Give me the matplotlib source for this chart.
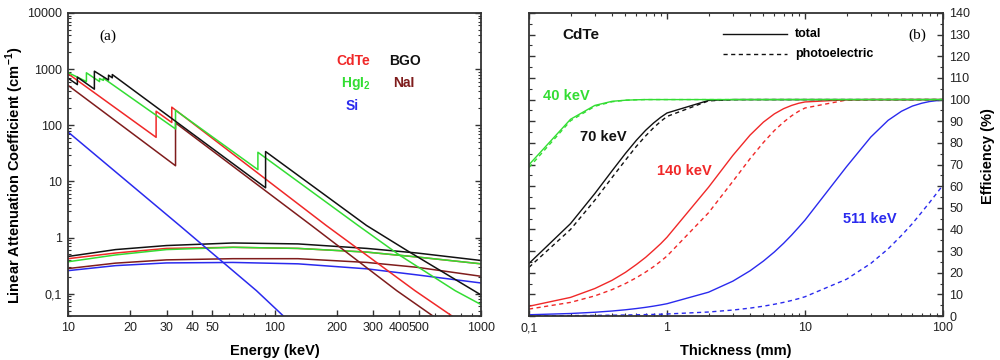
import matplotlib
matplotlib.use("Agg")
import matplotlib.pyplot as plt
from matplotlib.lines import Line2D
from matplotlib.ticker import FixedLocator, FixedFormatter, NullFormatter, MultipleLocator

plt.rcParams['font.family'] = ['Liberation Sans', 'DejaVu Sans']
plt.rcParams['mathtext.fontset'] = 'custom'
plt.rcParams['mathtext.rm'] = 'Liberation Sans'
plt.rcParams['mathtext.bf'] = 'Liberation Sans:bold'

# ---------------- Panel (a): linear attenuation coefficients ----------------
cdte_E = [10, 26.71, 26.71, 31.81, 31.81, 178, 479, 731]
cdte_mu = [830, 61, 178, 112, 210, 1.64, 0.113, 0.039]

hgi2_E = [10, 12.28, 12.28, 14.21, 14.21, 14.84, 14.84, 33.17, 33.17, 83.1, 83.1,
          254, 405, 750, 1000]
hgi2_mu = [870, 600, 860, 600, 680, 630, 690, 86, 185, 16.2, 33,
           1.64, 0.48, 0.113, 0.064]

bgo_E = [10, 11.1, 11.1, 13.42, 13.42, 15.71, 15.71, 16.39, 16.39, 90.53, 90.53,
         279, 451, 1000]
bgo_mu = [690, 530, 720, 440, 920, 640, 780, 700, 800, 7.7, 34,
          1.64, 0.55, 0.095]

nai_E = [10, 33.17, 33.17, 151, 391, 591]
nai_mu = [515, 19, 110, 1.64, 0.113, 0.039]

si_E = [10, 34.7, 81.8, 120]
si_mu = [76, 1.64, 0.113, 0.030]

# Scattering curves (flat ones)
comp_E = [10, 17, 30, 63, 130, 280, 490, 1000]
bgo_c = [0.46, 0.61, 0.72, 0.80, 0.77, 0.64, 0.53, 0.39]
cdte_c = [0.42, 0.53, 0.64, 0.67, 0.64, 0.55, 0.45, 0.34]
hgi2_c = [0.37, 0.49, 0.61, 0.67, 0.64, 0.55, 0.45, 0.34]
nai_c = [0.28, 0.35, 0.40, 0.42, 0.42, 0.36, 0.295, 0.204]
si_c = [0.257, 0.316, 0.353, 0.36, 0.34, 0.277, 0.216, 0.155]

a_xticks = [10, 20, 30, 40, 50, 100, 200, 300, 400, 500, 1000]
a_xticklabels = ['10', '20', '30', '40', '50', '100', '200', '300', '400', '500', '1000']
a_yticks = [0.1, 1, 10, 100, 1000, 10000]
a_yticklabels = ['0,1', '1', '10', '100', '1000', '10000']

# ---------------- Panel (b): efficiency vs thickness ----------------
thick = [0.1, 0.2, 0.3, 0.4, 0.5, 0.6, 0.7, 0.8, 0.9, 1,
         2, 3, 4, 5, 6, 7, 8, 9, 10,
         20, 30, 40, 50, 60, 70, 80, 90, 100]

eff40_tot = [69.9, 90.9, 97.3, 99.2, 99.7, 99.9, 100, 100, 100, 100,
             100, 100, 100, 100, 100, 100, 100, 100, 100,
             100, 100, 100, 100, 100, 100, 100, 100, 100]
eff40_pe = [68.6, 90.2, 96.9, 99.0, 99.7, 99.9, 100, 100, 100, 100,
            100, 100, 100, 100, 100, 100, 100, 100, 100,
            100, 100, 100, 100, 100, 100, 100, 100, 100]
eff70_tot = [24.3, 42.7, 56.6, 67.1, 75.1, 81.2, 85.8, 89.2, 91.8, 93.8,
             99.6, 100, 100, 100, 100, 100, 100, 100, 100,
             100, 100, 100, 100, 100, 100, 100, 100, 100]
eff70_pe = [22.5, 40.0, 53.5, 64.0, 72.0, 78.4, 83.2, 87.0, 89.9, 92.2,
            99.4, 99.95, 100, 100, 100, 100, 100, 100, 100,
            100, 100, 100, 100, 100, 100, 100, 100, 100]
eff140_tot = [4.5, 8.6, 12.7, 16.5, 20.2, 23.8, 27.1, 30.4, 33.4, 36.4,
              59.5, 74.2, 83.6, 89.6, 93.4, 95.8, 97.3, 98.3, 98.9,
              99.9, 100, 100, 100, 100, 100, 100, 100, 100]
eff140_pe = [3.2, 6.3, 9.3, 12.2, 15.0, 17.7, 20.3, 22.8, 25.3, 27.7,
             47.7, 62.2, 72.7, 80.2, 85.7, 89.6, 92.5, 94.6, 96.1,
             99.8, 100, 100, 100, 100, 100, 100, 100, 100]
eff511_tot = [0.58, 1.16, 1.74, 2.31, 2.88, 3.45, 4.01, 4.57, 5.13, 5.68,
              11.0, 16.1, 20.9, 25.4, 29.6, 33.6, 37.4, 41.0, 44.3,
              69.0, 82.7, 90.4, 94.6, 97.0, 98.3, 99.1, 99.5, 99.7]
eff511_pe = [0.09, 0.19, 0.28, 0.37, 0.46, 0.56, 0.65, 0.74, 0.83, 0.93,
             1.85, 2.75, 3.65, 4.54, 5.43, 6.30, 7.17, 8.03, 8.9,
             17.0, 24.3, 31.0, 37.2, 42.7, 47.9, 52.5, 56.7, 60.5]

b_xticks = [0.1, 1, 10, 100]
b_xticklabels = ['0,1', '1', '10', '100']

RED = '#f02828'
GREEN = '#33dd33'
BLACK = '#111111'
BROWN = '#7f1c1c'
BLUE = '#2a2aee'
SPINE = '#333333'

fig = plt.figure(figsize=(10, 3.6), dpi=100)


def fx(px):
    return px / 1000.0


def fy(py):
    return 1 - py / 360.0


ax1 = fig.add_axes([0.068, 0.1222, 0.413, 0.8417])
ax2 = fig.add_axes([0.529, 0.1222, 0.414, 0.8417])

# ---- panel (a)
lw = 1.1
for c, col in [(si_c, BLUE), (nai_c, BROWN), (bgo_c, BLACK), (cdte_c, RED), (hgi2_c, GREEN)]:
    ax1.plot(comp_E, c, color=col, lw=lw)
ax1.plot(si_E, si_mu, color=BLUE, lw=lw)
ax1.plot(nai_E, nai_mu, color=BROWN, lw=lw)
ax1.plot(cdte_E, cdte_mu, color=RED, lw=lw)
ax1.plot(hgi2_E, hgi2_mu, color=GREEN, lw=lw)
ax1.plot(bgo_E, bgo_mu, color=BLACK, lw=lw)

ax1.set_xscale('log')
ax1.set_yscale('log')
ax1.set_xlim(10, 1000)
ax1.set_ylim(0.04, 10000)
ax1.xaxis.set_major_locator(FixedLocator(a_xticks))
ax1.xaxis.set_major_formatter(FixedFormatter(a_xticklabels))
ax1.xaxis.set_minor_locator(FixedLocator([60, 70, 80, 90, 600, 700, 800, 900]))
ax1.xaxis.set_minor_formatter(NullFormatter())
ax1.yaxis.set_major_locator(FixedLocator(a_yticks))
ax1.yaxis.set_major_formatter(FixedFormatter(a_yticklabels))
yminor = [m * d for d in [0.01, 0.1, 1, 10, 100, 1000] for m in range(2, 10)]
ax1.yaxis.set_minor_locator(FixedLocator(yminor))
ax1.yaxis.set_minor_formatter(NullFormatter())
ax1.tick_params(axis='both', which='both', direction='in', colors=SPINE,
                labelcolor='#222222', labelsize=9)
ax1.tick_params(axis='both', which='major', length=4.5, width=1.0, pad=4.5)
ax1.tick_params(axis='both', which='minor', length=2.5, width=0.8)
ax1.tick_params(axis='y', which='both', left=True, right=True)
ax1.tick_params(axis='x', which='both', top=False, bottom=True)

# ---- panel (b)
dash = (0, (3, 2.5))
lw2 = 1.0
for tot, pe, col in [(eff511_tot, eff511_pe, BLUE), (eff140_tot, eff140_pe, RED),
                     (eff70_tot, eff70_pe, BLACK), (eff40_tot, eff40_pe, GREEN)]:
    ax2.plot(thick, pe, color=col, lw=lw2, ls=dash)
    ax2.plot(thick, tot, color=col, lw=lw2)

ax2.set_xscale('log')
ax2.set_xlim(0.1, 100)
ax2.set_ylim(0, 140)
ax2.xaxis.set_major_locator(FixedLocator(b_xticks))
ax2.xaxis.set_major_formatter(FixedFormatter(b_xticklabels))
xminor = [m * d for d in [0.1, 1, 10] for m in range(2, 10)]
ax2.xaxis.set_minor_locator(FixedLocator(xminor))
ax2.xaxis.set_minor_formatter(NullFormatter())
ax2.yaxis.set_major_locator(MultipleLocator(10))
ax2.yaxis.set_minor_locator(MultipleLocator(5))
ax2.tick_params(axis='both', which='both', direction='in', colors=SPINE,
                labelcolor='#222222', labelsize=9)
ax2.tick_params(axis='both', which='major', length=4.5, width=1.0, pad=4.5)
ax2.tick_params(axis='both', which='minor', length=2.5, width=0.8)
ax2.tick_params(axis='y', which='both', left=True, right=True, labelleft=False, labelright=True)
ax2.tick_params(axis='x', which='both', top=True, bottom=True)

for ax in (ax1, ax2):
    for s in ax.spines.values():
        s.set_color(SPINE)
        s.set_linewidth(1.3)

# ---- texts
bold = dict(fontweight='bold')
fig.text(fx(15), fy(175), r'Linear Attenuation Coefficient (cm$^{\mathbf{-1}}$)', rotation=90,
         ha='center', va='center', fontsize=10.5, **bold)
fig.text(fx(275), fy(351), 'Energy (keV)', ha='center', va='center', fontsize=10.5, **bold)
fig.text(fx(736), fy(351), 'Thickness (mm)', ha='center', va='center', fontsize=10.5, **bold)
fig.text(fx(988), fy(156), 'Efficiency (%)', rotation=90, ha='center', va='center',
         fontsize=10.5, **bold)

fig.text(fx(108), fy(36), '(a)', ha='center', va='center', fontsize=11,
         family=['Liberation Serif', 'DejaVu Serif'])
fig.text(fx(917), fy(35), '(b)', ha='center', va='center', fontsize=11,
         family=['Liberation Serif', 'DejaVu Serif'])

fig.text(fx(336), fy(61), 'CdTe', color=RED, ha='left', va='center', fontsize=10, **bold)
fig.text(fx(389), fy(61), 'BGO', color=BLACK, ha='left', va='center', fontsize=10, **bold)
fig.text(fx(341), fy(83), r'HgI$_{\mathbf{2}}$', color=GREEN, ha='left', va='center',
         fontsize=10, **bold)
fig.text(fx(393), fy(83), 'NaI', color=BROWN, ha='left', va='center', fontsize=10, **bold)
fig.text(fx(346), fy(106), 'Si', color=BLUE, ha='left', va='center', fontsize=10, **bold)

fig.text(fx(562), fy(35), 'CdTe', color=BLACK, ha='left', va='center', fontsize=11, **bold)
fig.text(fx(543), fy(96), '40 keV', color=GREEN, ha='left', va='center', fontsize=10.5, **bold)
fig.text(fx(580), fy(137), '70 keV', color=BLACK, ha='left', va='center', fontsize=10.5, **bold)
fig.text(fx(657), fy(171), '140 keV', color=RED, ha='left', va='center', fontsize=10.5, **bold)
fig.text(fx(843), fy(219), '511 keV', color=BLUE, ha='left', va='center', fontsize=10.5, **bold)

fig.add_artist(Line2D([fx(723), fx(787)], [fy(34), fy(34)], transform=fig.transFigure,
                      color=BLACK, lw=1.0))
fig.add_artist(Line2D([fx(723), fx(787)], [fy(54), fy(54)], transform=fig.transFigure,
                      color=BLACK, lw=1.0, ls=dash))
fig.text(fx(795), fy(34), 'total', ha='left', va='center', fontsize=9, **bold)
fig.text(fx(795), fy(54), 'photoelectric', ha='left', va='center', fontsize=9, **bold)

fig.savefig('out.png', dpi=100)
